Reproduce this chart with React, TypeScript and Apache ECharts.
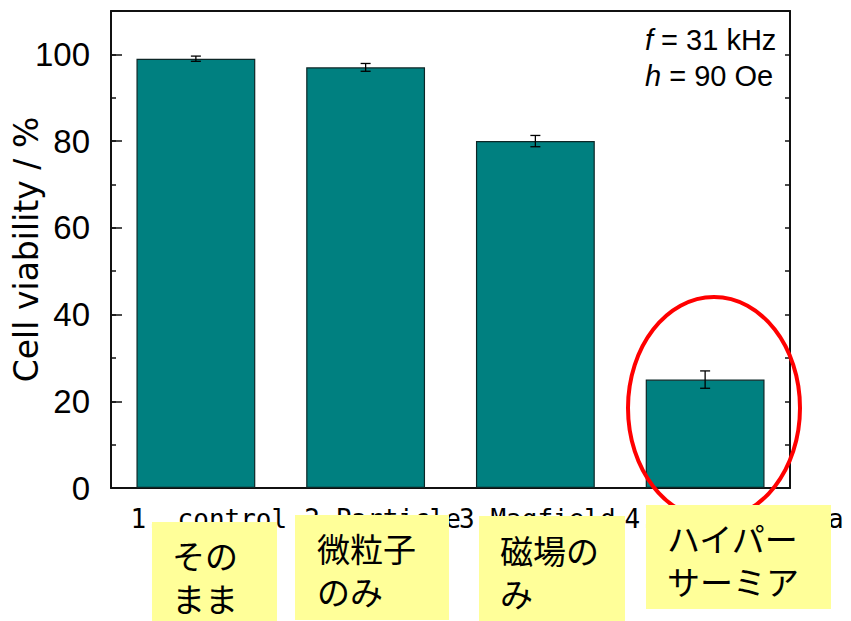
import React, { useEffect, useRef } from "react";
import * as echarts from "echarts";

// Cell viability per treatment group (mean ± SD, %)
const categories = ["1. control", "2.Particle", "3.Magfield", "4.Hyperthermia"];
const viability = [99, 97, 80, 25];
const viabilityErr = [0.6, 0.9, 1.3, 2.0];

// Japanese notes placed under each group
const notes = [
  ["その", "まま"],
  ["微粒子", "のみ"],
  ["磁場の", "み"],
  ["ハイパー", "サーミア"],
];

const conditionLines = ["{i|f} = 31 kHz", "{i|h} = 90 Oe"];

const AXIS_COLOR = "#111";
const BAR_COLOR = "#008080";

// note boxes: [left, top, width, height, textLeft, textTop]
const noteBoxes = [
  [152, 522, 125, 99, 172, 533],
  [295, 515, 154, 105, 317, 526],
  [479, 516, 146, 105, 500, 528],
  [646, 505, 185, 104, 667, 516],
];

// extra left padding per category label (shifts text to the right)
const labelShift = [26, 34, 4, 58];

export default function App() {
  const ref = useRef<HTMLDivElement>(null);

  useEffect(() => {
    if (!ref.current) return;
    const chart = echarts.init(ref.current, undefined, { renderer: "svg" });

    const rich: Record<string, any> = {};
    labelShift.forEach((p, i) => {
      rich["c" + i] = {
        fontFamily: "DejaVu Sans Mono",
        fontSize: 26,
        color: "#000",
        padding: [0, 0, 0, p],
      };
    });

    const grid = {
      left: 111,
      right: 61,
      top: 11,
      bottom: 133,
      containLabel: false,
      outerBoundsMode: "none",
    };

    const noteGraphics: any[] = [];
    notes.forEach((lines, i) => {
      const [l, t, w, h, tx, ty] = noteBoxes[i];
      noteGraphics.push({
        type: "rect",
        z: 110,
        shape: { x: l, y: t, width: w, height: h },
        style: { fill: "#ffff99", stroke: "none" },
      });
      noteGraphics.push({
        type: "text",
        z: 120,
        x: tx,
        y: ty,
        style: {
          text: lines.join("\n"),
          fontFamily: "Noto Sans CJK JP",
          fontSize: 33,
          lineHeight: 43,
          fill: "#000",
          verticalAlign: "top",
          align: "left",
        },
      });
    });

    const tickStyle = { color: AXIS_COLOR, width: 1.5 };

    const option: any = {
      animation: false,
      backgroundColor: "#fff",
      grid,
      xAxis: [
        {
          type: "category",
          data: categories,
          position: "bottom",
          axisLine: { onZero: false, lineStyle: { color: AXIS_COLOR, width: 2 } },
          axisTick: { inside: true, alignWithLabel: true, length: 9, lineStyle: tickStyle },
          axisLabel: {
            interval: 0,
            margin: 18,
            color: "#000",
            fontFamily: "DejaVu Sans Mono",
            fontSize: 26,
            hideOverlap: false,
            formatter: (v: string, i: number) => `{c${i}|${v}}`,
            rich,
          },
        },
        {
          type: "category",
          data: categories,
          position: "bottom",
          axisLine: { show: false, onZero: false },
          axisTick: { inside: true, alignWithLabel: false, interval: 0, length: 5, lineStyle: tickStyle },
          axisLabel: { show: false },
        },
        {
          type: "category",
          data: categories,
          position: "top",
          axisLine: { onZero: false, lineStyle: { color: AXIS_COLOR, width: 2 } },
          axisTick: { inside: true, alignWithLabel: true, length: 3, lineStyle: tickStyle },
          axisLabel: { show: false },
        },
        {
          type: "category",
          data: categories,
          position: "top",
          axisLine: { show: false, onZero: false },
          axisTick: { inside: true, alignWithLabel: false, interval: 0, length: 3, lineStyle: tickStyle },
          axisLabel: { show: false },
        },
      ],
      yAxis: [
        {
          type: "value",
          min: 0,
          max: 110,
          interval: 20,
          position: "left",
          name: "Cell viability / %",
          nameLocation: "middle",
          nameGap: 68,
          nameMoveOverlap: false,
          nameTextStyle: { fontFamily: "DejaVu Sans", fontSize: 33, color: "#000" },
          splitLine: { show: false },
          axisLine: { show: true, onZero: false, lineStyle: { color: AXIS_COLOR, width: 2 } },
          axisTick: { show: true, inside: true, length: 11, lineStyle: tickStyle },
          axisLabel: {
            margin: 21,
            color: "#000",
            fontFamily: "Liberation Sans",
            fontSize: 33,
            formatter: (v: number) => (v > 100 ? "" : String(v)),
          },
        },
        {
          type: "value",
          min: 0,
          max: 110,
          interval: 10,
          position: "left",
          splitLine: { show: false },
          axisLine: { show: false, onZero: false },
          axisTick: { show: true, inside: true, length: 5, lineStyle: tickStyle },
          axisLabel: { show: false },
        },
        {
          type: "value",
          min: 0,
          max: 110,
          interval: 10,
          position: "right",
          splitLine: { show: false },
          axisLine: { show: true, onZero: false, lineStyle: { color: AXIS_COLOR, width: 2 } },
          axisTick: { show: true, inside: true, length: 5, lineStyle: tickStyle },
          axisLabel: { show: false },
        },
      ],
      series: [
        {
          type: "bar",
          data: viability,
          barWidth: "70%",
          xAxisIndex: 0,
          yAxisIndex: 0,
          itemStyle: { color: BAR_COLOR, borderColor: "#0d2626", borderWidth: 1.2 },
          z: 2,
        },
        {
          type: "custom",
          xAxisIndex: 0,
          yAxisIndex: 0,
          z: 5,
          data: viability.map((v, i) => [i, v, viabilityErr[i]]),
          renderItem: (_params: any, api: any) => {
            const x = api.value(0);
            const v = api.value(1);
            const e = api.value(2);
            const top = api.coord([x, v + e]);
            const bot = api.coord([x, v - e]);
            const cap = 5;
            const st = { stroke: "#000", lineWidth: 1.3 };
            return {
              type: "group",
              children: [
                { type: "line", shape: { x1: top[0], y1: top[1], x2: bot[0], y2: bot[1] }, style: st },
                { type: "line", shape: { x1: top[0] - cap, y1: top[1], x2: top[0] + cap, y2: top[1] }, style: st },
                { type: "line", shape: { x1: bot[0] - cap, y1: bot[1], x2: bot[0] + cap, y2: bot[1] }, style: st },
              ],
            };
          },
        },
      ],
      graphic: [
        {
          type: "text",
          z: 100,
          x: 645,
          y: 22,
          style: {
            text: conditionLines.join("\n"),
            fontFamily: "Liberation Sans",
            fontSize: 29,
            lineHeight: 36,
            fill: "#000",
            verticalAlign: "top",
            align: "left",
            rich: {
              i: { fontFamily: "Liberation Sans", fontSize: 29, fontStyle: "italic", fill: "#000" },
            },
          },
        },
        {
          type: "ellipse",
          z: 105,
          shape: { cx: 714, cy: 408, rx: 86, ry: 111 },
          style: { fill: "none", stroke: "#ff0000", lineWidth: 4 },
        },
        ...noteGraphics,
      ],
    };

    chart.setOption(option);
    return () => chart.dispose();
  }, []);

  return (
    <div
      ref={ref}
      style={{ position: "fixed", left: 0, top: 0, width: 851, height: 621, background: "#fff" }}
    />
  );
}
